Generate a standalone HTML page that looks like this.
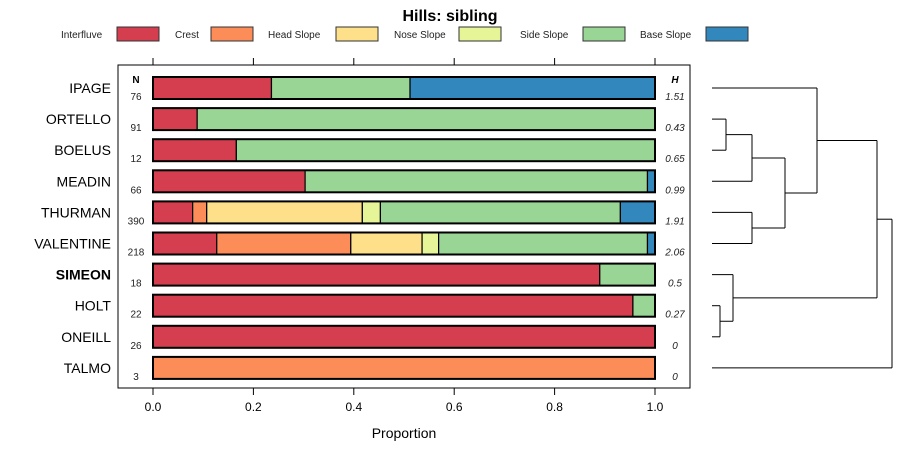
<!DOCTYPE html>
<html><head><meta charset="utf-8"><style>
body{margin:0;background:#fff;}
svg{display:block;font-family:"Liberation Sans",sans-serif;}
</style></head><body>
<svg id="c" width="900" height="460"></svg>
<script>
const categories=["IPAGE","ORTELLO","BOELUS","MEADIN","THURMAN","VALENTINE","SIMEON","HOLT","ONEILL","TALMO"];
const seriesNames=["Interfluve","Crest","Head Slope","Nose Slope","Side Slope","Base Slope"];
const colors=["#d53e4f","#fc8d59","#fee08b","#e6f598","#99d594","#3288bd"];
const interfluve=[0.236,0.088,0.166,0.303,0.079,0.127,0.89,0.956,1,0];
const crest=[0,0,0,0,0.028,0.267,0,0,0,1];
const headSlope=[0,0,0,0,0.31,0.142,0,0,0,0];
const noseSlope=[0,0,0,0,0.036,0.033,0,0,0,0];
const sideSlope=[0.276,0.912,0.834,0.682,0.478,0.416,0.11,0.044,0,0];
const baseSlope=[0.488,0,0,0.015,0.069,0.015,0,0,0,0];
const nValues=["76","91","12","66","390","218","18","22","26","3"];
const hValues=["1.51","0.43","0.65","0.99","1.91","2.06","0.5","0.27","0","0"];
const xTicks=[0,0.2,0.4,0.6,0.8,1];
const series=[interfluve,crest,headSlope,noseSlope,sideSlope,baseSlope];
const svg=document.getElementById('c');
const NS="http://www.w3.org/2000/svg";
function el(t,a,p){const e=document.createElementNS(NS,t);for(const k in a)e.setAttribute(k,a[k]);(p||svg).appendChild(e);return e;}
const X=v=>153+v*502;
const Y=i=>88+i*31.1;
// title
let t=el('text',{x:450,y:21,'text-anchor':'middle','font-size':16,'font-weight':'bold'});t.textContent="Hills: sibling";


// legend
const legX=[[61,117],[175,211],[268,336],[394,459],[520,583],[640,706]];
seriesNames.forEach((n,i)=>{
 const g=el('g',{});
 
 
 const tx=el('text',{x:legX[i][0],y:38,'font-size':10,fill:'#222'},g);tx.textContent=n;
 el('rect',{x:legX[i][1],y:27,width:42,height:14,fill:colors[i],stroke:'#333','stroke-width':1},g);
});
// panel
const panel=el('rect',{x:118,y:65,width:572,height:323,fill:'none',stroke:'#000','stroke-width':1});


xTicks.forEach(v=>{
 el('line',{x1:X(v),x2:X(v),y1:58,y2:65,stroke:'#000'});
 el('line',{x1:X(v),x2:X(v),y1:388,y2:395,stroke:'#000'});
 const l=el('text',{x:X(v),y:411,'text-anchor':'middle','font-size':12});l.textContent=v.toFixed(1);
 
 
});
let xt=el('text',{x:404,y:438,'text-anchor':'middle','font-size':14});xt.textContent="Proportion";


let nh=el('text',{x:136,y:83,'text-anchor':'middle','font-size':10,'font-weight':'bold'});nh.textContent="N";
let hh=el('text',{x:675,y:83,'text-anchor':'middle','font-size':10,'font-weight':'bold','font-style':'italic'});hh.textContent="H";
categories.forEach((c,i)=>{
 const y=Y(i);
 const lab=el('text',{x:111,y:y+5,'text-anchor':'end','font-size':14,'font-weight':c==="SIMEON"?'bold':'normal'});lab.textContent=c;
 
 
 const nt=el('text',{x:136,y:y+12,'text-anchor':'middle','font-size':10,fill:'#222'});nt.textContent=nValues[i];
 const ht=el('text',{x:675,y:y+12,'text-anchor':'middle','font-size':10,'font-style':'italic',fill:'#222'});ht.textContent=hValues[i];
 let acc=0;
 series.forEach((s,j)=>{
  const v=s[i]; if(v<=0)return;
  const r=el('rect',{x:X(acc),y:y-11,width:X(acc+v)-X(acc),height:22,fill:colors[j],stroke:'#000','stroke-width':1.2});
  
  
  acc+=v;
 });
 el('rect',{x:X(0),y:y-11,width:502,height:22,fill:'none',stroke:'#000','stroke-width':2});
});
// dendrogram
const d=el('g',{fill:'none',stroke:'#000','stroke-width':1});


function seg(x1,y1,x2,y2){el('line',{x1,y1,x2,y2},d);}
function join(a,b,h){ // a,b: [x,y]
 seg(a[0],a[1],h,a[1]);seg(b[0],b[1],h,b[1]);seg(h,a[1],h,b[1]);return [h,(a[1]+b[1])/2];}
const L=i=>[712,Y(i)];
const ob=join(L(1),L(2),726);
const obm=join(ob,L(3),752);
const tv=join(L(4),L(5),752);
const m1=join(obm,tv,785);
const m2=join(L(0),m1,817);
const ho=join(L(7),L(8),720);
const sho=join(L(6),ho,733);
const m3=join(m2,sho,877);
join(m3,L(9),892);
</script>
</body></html>
